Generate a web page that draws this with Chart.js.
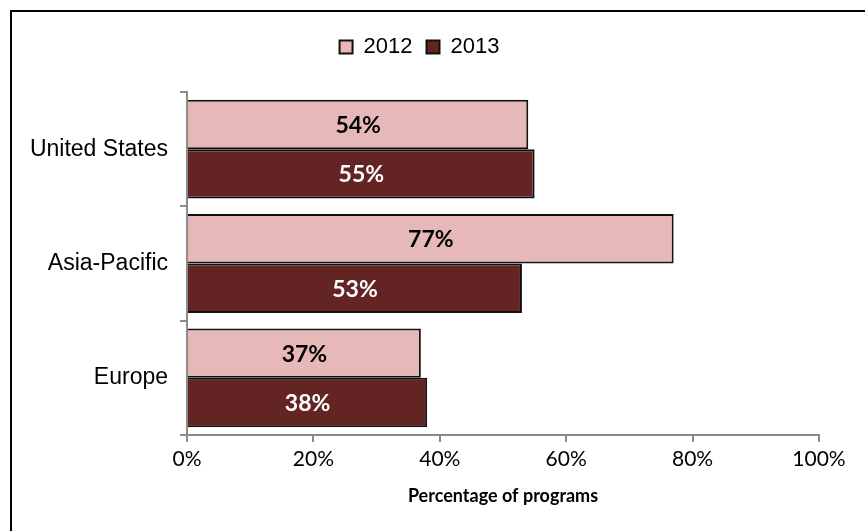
<!DOCTYPE html>
<html>
<head>
<meta charset="utf-8">
<script src="https://cdn.jsdelivr.net/npm/chart.js@4"></script>
<style>
  body { margin: 0; background: #fff; overflow: hidden; }
  #wrap { position: relative; width: 865px; height: 531px; }
  #frame {
    position: absolute; left: 10px; top: 10px; width: 900px; height: 600px;
    border-left: 2px solid #000; border-top: 2px solid #000;
  }
  canvas { position: absolute; left: 0; top: 0; }
</style>
</head>
<body>
<div id="wrap">
  <div id="frame"></div>
  <canvas id="programs-chart" width="865" height="531"></canvas>
</div>
<script>
/* =====================================
   DATA
======================================== */

const regions = ["United States", "Asia-Pacific", "Europe"];
const years = ["2012", "2013"];
const values2012 = [54, 77, 37];
const values2013 = [55, 53, 38];
const xTicks = [0, 20, 40, 60, 80, 100];

const axisGrey = '#8c8c8c';
const roundFont = "Lato, 'Open Sans', sans-serif";
const arialFont = "'Liberation Sans', Arial, sans-serif";

/* =====================================
   Value labels inside the bars
======================================== */

const barLabels = {
   id: 'barLabels',
   afterDatasetsDraw(chart) {
      const ctx = chart.ctx;
      ctx.save();
      ctx.font = "bold 23px " + roundFont;
      ctx.textAlign = 'center';
      ctx.textBaseline = 'middle';
      chart.data.datasets.forEach((ds, i) => {
         const meta = chart.getDatasetMeta(i);
         ctx.fillStyle = i === 0 ? '#000' : '#fff';
         meta.data.forEach((bar, j) => {
            const x = (bar.base + bar.x) / 2;
            ctx.fillText(ds.data[j] + '%', x, bar.y + 1);
         });
      });
      ctx.restore();
   }
};

// extra room under the legend
const legendGap = {
   id: 'legendGap',
   beforeInit(chart) {
      const fit = chart.legend.fit;
      chart.legend.fit = function () {
         fit.bind(chart.legend)();
         this.height += 24;
      };
   }
};

/* =====================================
   CHART
======================================== */

const canvas = document.getElementById("programs-chart");

new Chart(canvas, {
   type: 'bar',
   data: {
      labels: regions,
      datasets: [{
         label: years[0],
         data: values2012,
         backgroundColor: '#E6B9B8',
         borderColor: '#111',
         borderWidth: 2,
         borderSkipped: 'start'
      }, {
         label: years[1],
         data: values2013,
         backgroundColor: '#632423',
         borderColor: '#111',
         borderWidth: 2,
         borderSkipped: 'start'
      }]
   },
   options: {
      indexAxis: 'y',
      responsive: false,
      animation: false,
      categoryPercentage: 0.865,
      barPercentage: 1,
      layout: {
         padding: { left: 20, right: 46, top: 22, bottom: 24 }
      },
      scales: {
         x: {
            min: 0,
            max: 100,
            afterBuildTicks(scale) {
               scale.ticks = xTicks.map(v => ({ value: v }));
            },
            afterFit(scale) {
               scale.height = 72;
            },
            border: { color: axisGrey, width: 2 },
            grid: {
               drawOnChartArea: false,
               tickLength: 7,
               color: axisGrey,
               lineWidth: 2
            },
            ticks: {
               color: '#000',
               padding: 5,
               maxRotation: 0,
               font: { family: roundFont, size: 21 },
               callback: v => v + '%'
            },
            title: {
               display: true,
               text: 'Percentage of programs',
               color: '#000',
               padding: { top: 2, bottom: 0 },
               font: { family: roundFont, size: 18, weight: 'bold' }
            }
         },
         y: {
            afterFit(scale) {
               scale.width = 167;
            },
            border: { color: axisGrey, width: 2 },
            grid: {
               drawOnChartArea: false,
               tickLength: 7,
               color: axisGrey,
               lineWidth: 2
            },
            ticks: {
               color: '#000',
               padding: 12,
               font: { family: arialFont, size: 23 }
            }
         }
      },
      plugins: {
         legend: {
            position: 'top',
            labels: {
               color: '#000',
               boxWidth: 13,
               boxHeight: 13,
               padding: 14,
               font: { family: arialFont, size: 22 }
            }
         },
         tooltip: { enabled: false }
      }
   },
   plugins: [barLabels, legendGap]
});
</script>
</body>
</html>
